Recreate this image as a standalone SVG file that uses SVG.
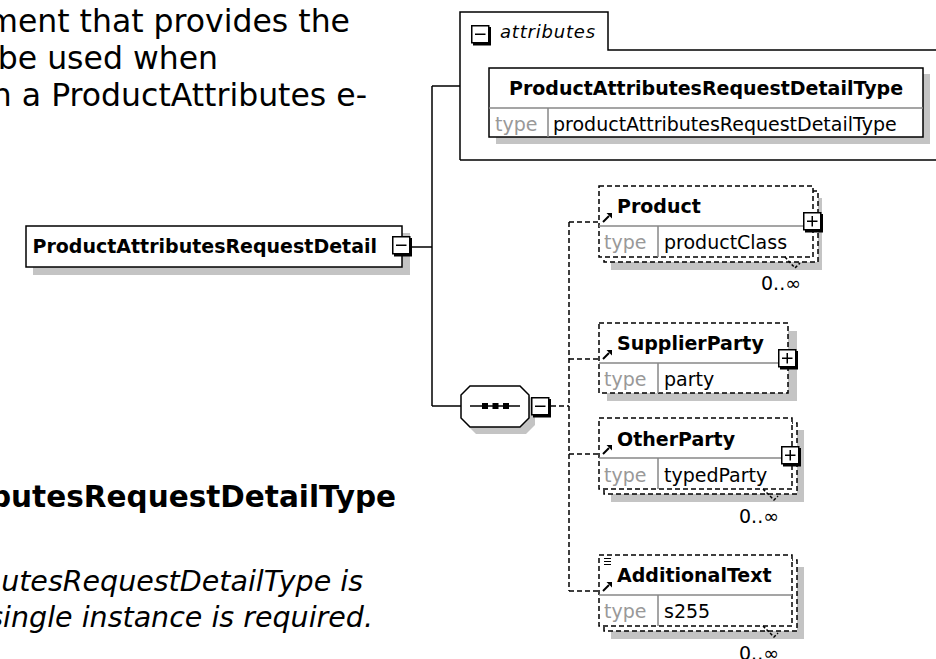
<svg xmlns="http://www.w3.org/2000/svg" width="936" height="659" viewBox="0 0 936 659">
<style>
.doc{font-family:"DejaVu Sans","Liberation Sans",sans-serif;font-size:31.5px;fill:#000}
.docb{font-family:"DejaVu Sans","Liberation Sans",sans-serif;font-size:29.5px;font-weight:bold;fill:#000}
.doci{font-family:"DejaVu Sans","Liberation Sans",sans-serif;font-size:28.5px;font-style:italic;fill:#000}
.dn{font-family:"DejaVu Sans","Liberation Sans",sans-serif;font-size:19px;fill:#000}
.nm{font-weight:bold}
.tl{fill:#999}
.box{fill:#fff;stroke:#000;stroke-width:1.5}
.dbox{fill:#fff;stroke:#000;stroke-width:1.5;stroke-dasharray:5 3}
.sh{fill:#c4c4c4}
.div{stroke:#888;stroke-width:1.5;fill:none}
.ln{stroke:#000;stroke-width:1.5;fill:none}
.dl{stroke:#000;stroke-width:1.5;fill:none;stroke-dasharray:5 3}
</style>
<defs>
<g id="minus"><rect x="0.75" y="0.75" width="17" height="17" fill="#fff" stroke="#000" stroke-width="1.5"/><path d="M18.5,2 V19 H2" fill="none" stroke="#000" stroke-width="3"/><path d="M4,9.25 H14.5" stroke="#000" stroke-width="1.5"/></g>
<g id="plus"><use href="#minus"/><path d="M9.25,4 V14.5" stroke="#000" stroke-width="1.5"/></g>
<g id="refArrow"><path d="M0,9 L6,3" stroke="#000" stroke-width="2"/><path d="M3.5,0 H9 V5.5 Z" fill="#000"/></g>
</defs>
<rect width="936" height="659" fill="#fff"/>

<g id="doc-text">
<text class="doc" x="350" y="32" text-anchor="end">ment that provides the</text>
<text class="doc" x="218" y="69" text-anchor="end">be used when</text>
<text class="doc" x="367" y="106" text-anchor="end">n a ProductAttributes e-</text>
<text class="docb" x="396" y="507" text-anchor="end">butesRequestDetailType</text>
<text class="doci" x="363" y="591" text-anchor="end">utesRequestDetailType is</text>
<text class="doci" x="373" y="627" text-anchor="end">single instance is required.</text>
</g>

<g id="connectors">
<path class="ln" d="M412,247 H432 M432,86 V406 M432,86 H460 M432,406 H461"/>
<path class="dl" d="M551,406 H569 M569,222 V591 M569,222 H599 M569,359 H599 M569,454 H599 M569,591 H599"/>
</g>

<g id="ProductAttributesRequestDetail">
<rect class="sh" x="33" y="233" width="377" height="42"/>
<rect class="box" x="26" y="226" width="376" height="41"/>
<text class="dn nm" x="377" y="253" text-anchor="end">ProductAttributesRequestDetail</text>
<use href="#minus" x="392" y="236"/>
</g>

<g id="attributes">
<path class="ln" d="M460,160 V12 H608 V50 H940 M460,160 H940"/>
<use href="#minus" x="471" y="25"/>
<text class="dn" x="500" y="38" style="font-size:18px;font-style:italic;letter-spacing:0.8px">attributes</text>
<rect class="sh" x="496" y="74" width="434" height="70"/>
<rect class="box" x="489" y="68" width="434" height="69"/>
<path class="div" d="M489,108 H923 M548,108 V137"/>
<text class="dn nm" x="706" y="95" text-anchor="middle">ProductAttributesRequestDetailType</text>
<text class="dn tl" x="495" y="131">type</text>
<text class="dn" x="553" y="131">productAttributesRequestDetailType</text>
</g>

<g id="sequence">
<polygon class="sh" points="476,393 526,393 535,402 535,425 526,434 476,434 467,425 467,402"/>
<polygon class="box" points="470,386 520,386 529,395 529,418 520,427 470,427 461,418 461,395"/>
<path class="ln" d="M470,406 H520"/>
<rect x="482" y="403" width="6" height="6"/>
<rect x="492.5" y="403" width="6" height="6"/>
<rect x="503" y="403" width="6" height="6"/>
<use href="#minus" x="531" y="397"/>
</g>

<g id="Product">
<rect class="sh" x="611" y="198" width="211" height="72"/>
<rect class="dbox" x="604" y="191" width="214" height="71"/>
<rect class="dbox" x="599" y="186" width="214" height="71"/>
<path class="div" d="M599,226 H813 M658,226 V257"/>
<use href="#refArrow" x="603" y="213"/>
<text class="dn nm" x="617" y="213">Product</text>
<text class="dn tl" x="604" y="249">type</text>
<text class="dn" x="664" y="249">productClass</text>
<use href="#plus" x="803" y="212"/>
<path class="dl" style="stroke-dasharray:3 2" d="M785,257 L795,268 L800,263"/>
<text class="dn" x="801" y="290" text-anchor="end">0..∞</text>
</g>

<g id="SupplierParty">
<rect class="sh" x="607" y="331" width="190" height="70"/>
<rect class="dbox" x="599" y="323" width="189" height="70"/>
<path class="div" d="M599,363 H788 M658,363 V393"/>
<use href="#refArrow" x="603" y="350"/>
<text class="dn nm" x="617" y="350">SupplierParty</text>
<text class="dn tl" x="604" y="386">type</text>
<text class="dn" x="664" y="386">party</text>
<use href="#plus" x="778" y="349"/>
</g>

<g id="OtherParty">
<rect class="sh" x="611" y="430" width="193" height="72"/>
<rect class="dbox" x="604" y="423" width="193" height="71"/>
<rect class="dbox" x="599" y="418" width="193" height="71"/>
<path class="div" d="M599,458 H792 M658,458 V489"/>
<use href="#refArrow" x="603" y="445"/>
<text class="dn nm" x="617" y="446">OtherParty</text>
<text class="dn tl" x="604" y="482">type</text>
<text class="dn" x="664" y="482">typedParty</text>
<use href="#plus" x="781" y="446"/>
<path class="dl" style="stroke-dasharray:3 2" d="M763,489 L774,500 L778,496"/>
<text class="dn" x="779" y="523" text-anchor="end">0..∞</text>
</g>

<g id="AdditionalText">
<rect class="sh" x="611" y="567" width="193" height="72"/>
<rect class="dbox" x="604" y="560" width="193" height="71"/>
<rect class="dbox" x="599" y="555" width="193" height="71"/>
<path class="div" d="M599,595 H792 M658,595 V626"/>
<path class="ln" style="stroke-width:1.2" d="M604,558.5 H611 M604,561.5 H611 M604,564.5 H611"/>
<use href="#refArrow" x="603" y="582"/>
<text class="dn nm" x="617" y="582">AdditionalText</text>
<text class="dn tl" x="604" y="618">type</text>
<text class="dn" x="664" y="618">s255</text>
<path class="dl" style="stroke-dasharray:3 2" d="M763,626 L774,637 L778,633"/>
<text class="dn" x="779" y="660" text-anchor="end">0..∞</text>
</g>
</svg>
